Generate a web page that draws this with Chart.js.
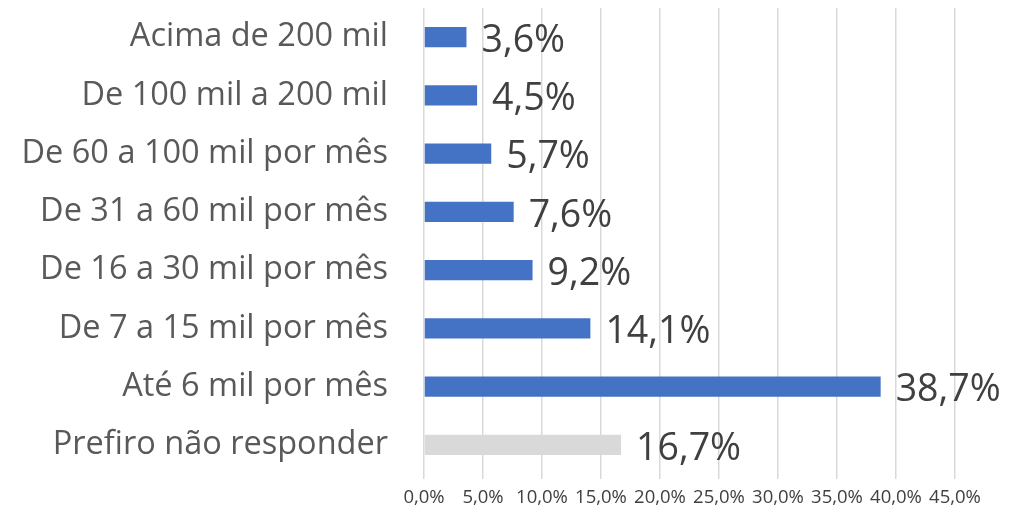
<!DOCTYPE html>
<html>
<head>
<meta charset="utf-8">
<script src="https://cdn.jsdelivr.net/npm/chart.js@4.4.1/dist/chart.umd.min.js"></script>
<style>
html,body{margin:0;padding:0;background:#fff;}
#wrap{width:1015px;height:519px;position:relative;}
</style>
</head>
<body>
<div id="wrap"><canvas id="c" width="1015" height="519"></canvas></div>
<script>
const categories = ["Acima de 200 mil","De 100 mil a 200 mil","De 60 a 100 mil por mês","De 31 a 60 mil por mês","De 16 a 30 mil por mês","De 7 a 15 mil por mês","Até 6 mil por mês","Prefiro não responder"];
const values = [3.6, 4.5, 5.7, 7.6, 9.2, 14.1, 38.7, 16.7];
const barColors = ["#4472C4","#4472C4","#4472C4","#4472C4","#4472C4","#4472C4","#4472C4","#D9D9D9"];
const xTicks = [0,5,10,15,20,25,30,35,40,45];

const fmt = v => v.toFixed(1).replace('.', ',') + '%';
const FONT = "'Open Sans', sans-serif";

const labelPlugin = {
  id: 'valLabels',
  afterDatasetsDraw(chart) {
    const ctx = chart.ctx;
    const meta = chart.getDatasetMeta(0);
    ctx.save();
    ctx.font = "37.5px " + FONT;
    ctx.fillStyle = "#404040";
    ctx.textAlign = "left";
    ctx.textBaseline = "middle";
    meta.data.forEach((bar, i) => {
      ctx.fillText(fmt(values[i]), bar.x + 15, bar.y + 4);
    });
    ctx.restore();
  }
};

new Chart(document.getElementById('c'), {
  type: 'bar',
  data: {
    labels: categories,
    datasets: [{
      data: values,
      backgroundColor: barColors,
      borderWidth: 0,
      barPercentage: 0.35,
      categoryPercentage: 1.0
    }]
  },
  options: {
    indexAxis: 'y',
    responsive: false,
    animation: false,
    devicePixelRatio: 1,
    layout: { padding: { left: 0, right: 60, top: 8, bottom: 0 } },
    plugins: { legend: { display: false }, tooltip: { enabled: false } },
    scales: {
      x: {
        min: 0, max: 45,
        afterBuildTicks(scale) { scale.ticks = xTicks.map(v => ({ value: v })); },
        afterFit(scale) { scale.height = 45; },
        grid: { color: "#D9D9D9", lineWidth: 1.5, drawTicks: true, tickLength: 5, tickColor: "#D9D9D9" },
        border: { display: false },
        ticks: {
          color: "#404040",
          font: { family: FONT, size: 18.5 },
          padding: 8,
          maxRotation: 0,
          autoSkip: false,
          callback: v => fmt(v)
        }
      },
      y: {
        afterFit(scale) { scale.width = 424; },
        grid: { display: true, drawOnChartArea: false, drawTicks: true, tickLength: 36, tickColor: "rgba(0,0,0,0)" },
        border: { display: false },
        ticks: {
          color: "#595959",
          font: { family: FONT, size: 32.5, lineHeight: 0.45 },
          padding: 0,
          autoSkip: false
        }
      }
    }
  },
  plugins: [labelPlugin]
});
</script>
</body>
</html>
